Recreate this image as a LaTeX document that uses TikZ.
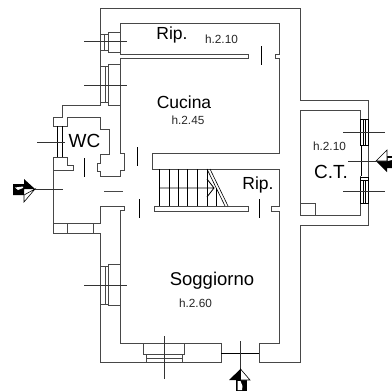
\documentclass[tikz,border=0pt]{standalone}
\usepackage{fontspec}
\setmainfont{Liberation Sans}
\tikzset{
	wall/.style={draw=black!72,line width=0.95pt,line join=miter},
	thin wall/.style={draw=black,line width=0.8pt},
	axis/.style={draw=black!80,line width=0.8pt},
	pointer/.style={draw=black,fill=white,line width=0.6pt},
	room/.style={inner sep=0pt,font=\fontsize{17.5}{18}\selectfont},
	height/.style={inner sep=0pt,text=black!85,font=\fontsize{11.8}{12}\selectfont}
}
\begin{document}
\begin{tikzpicture}[x=1pt,y=-1pt]
		\useasboundingbox (0,0) rectangle (392,392);

		\draw[wall] (100,105) -- (100,8) -- (300,8) -- (300,100) -- (368,100) -- (368,225) -- (300,225) -- (300,362) -- (259,362) -- (259,343) -- (279,343) -- (279,211) -- (271,211) -- (271,206) -- (279,206) -- (279,169) -- (152.5,169) -- (152.5,153) -- (279,153) -- (279,58) -- (275,58) -- (275,54) -- (279,54) -- (279,23) -- (120,23) -- (120,54) -- (248,54) -- (248,58) -- (120,58) -- (120,153) -- (124,153) -- (124,170) -- (120,170) -- (120,176) -- (100,176) -- (100,171) -- (97,171) -- (97,163) -- (100,163) -- (100,154) -- (109,154) -- (109,129) -- (100,129) -- (100,117) -- (67,117) -- (67,126) -- (53,126) -- (53,117) -- (62,117) -- (62,105) -- cycle;
		\draw[wall] (53,157) -- (67,157) -- (67,165) -- (73,165) -- (73,170) -- (53,170);
		\draw[wall] (53,157) -- (53,233) -- (100,233) -- (100,362) -- (221,362) -- (221,343) -- (120,343) -- (120,210) -- (124,210) -- (124,206) -- (100,206) -- (100,223) -- (53,223);
		\draw[wall] (67,223) -- (67,233) (93,223) -- (93,233);
		\draw[wall] (154.5,206) rectangle (248,211);

		\draw[wall] (100,34) rectangle (108,50) (104.5,34) -- (104.5,50);
		\draw[wall] (108,32) rectangle (120,52);
		\draw[wall] (100,66) rectangle (108,102) (105,66) -- (105,102);
		\draw[wall] (108,64) rectangle (120,105);
		\draw[wall] (100,266) rectangle (108,304) (105,266) -- (105,304);
		\draw[wall] (108,264) rectangle (120,305);
		\draw[thin wall] (57.5,126) -- (57.5,157) (62,126) -- (62,157);
		\draw[wall] (143,343) rectangle (184,354);
		\draw[wall] (146,354) rectangle (182,362) (146,358) -- (182,358);

		\draw[wall] (300,110) rectangle (360,215);
		\draw[wall] (300,203) -| (315,215);
		\draw[thin wall,fill=white] (360,119) rectangle (368,145) (363,119) -- (363,145) (365,119) -- (365,145);
		\draw[thin wall,fill=white] (360,177) rectangle (368,203) (363,180) -- (363,203) (365,180) -- (365,203) (360,180) -- (368,180);
		\draw[draw=white,line width=1.2pt] (360,146) -- (360,176);
		\draw[thin wall] (361,146) -- (361,176);

		\foreach \tread in {159,169,178,187,197,207}
			\draw[thin wall] (\tread,169) -- (\tread,206);
		\draw[thin wall] (216,188) -- (216,206);
		\draw[thin wall] (159,188) -- (213,188) (207,179) -- (214,188) -- (207,197);
		\draw[thin wall,line width=0.6pt] (207,169) -- (225,206) (210,169) -- (228,206);

		\foreach \door/\from/\to in {261/46/65,137/147/166,84/158/177,139/199/218,259/199/218}
			\draw[thin wall] (\door,\from) -- (\door,\to);
		\draw[wall] (104,191) -- (123,191);
		\draw[thin wall] (221,353) -- (259,353);

		\foreach \level/\from/\to in {41/84/127,85/84/127,142/37/65,189/33/63,285/84/127,132/343/385,161/348/376,191/343/385}
			\draw[axis] (\from,\level) -- (\to,\level);
		\draw[axis] (164,336) -- (164,379);
		\draw[axis] (240.5,341) -- (240.5,369);

		\fill (35,189) -- (24,179) -- (24,184) -- (13,184) -- (13,195) -- (24,195) -- (24,189) -- cycle;
		\fill[white] (15,187.5) -- (23,186.5) -- (23,188) -- (18,190) -- cycle;
		\draw[pointer] (35,189) -- (24,202) -- (24,195) -- cycle;

		\fill (376,161) -- (387,161) -- (387,156) -- (392,156) -- (392,168) -- (387,168) -- (387,172) -- cycle;
		\fill[white] (387.5,158) -- (392,158) -- (392,160) -- (387.5,161) -- cycle;
		\draw[pointer] (376,161) -- (387,150) -- (387,161) -- cycle;

		\fill (236,380) rectangle (247,391);
		\fill[white] (237.5,381) -- (240.5,381) -- (242.5,386) -- (242,390) -- (237.5,390) -- cycle;
		\fill (240.5,369) -- (229,380) -- (240.5,380) -- cycle;
		\draw[pointer] (240.5,369) -- (250,380) -- (240.5,380) -- cycle;

		\node[room] (rip top) at (172,35) {Rip.};
		\node[height] (h rip) at (221.5,39) {h.2.10};
		\node[room] (cucina) at (184,102) {Cucina};
		\node[height] (h cucina) at (188,120) {h.2.45};
		\node[room,font=\fontsize{19}{19}\selectfont] (wc) at (84.5,141) {WC};
		\node[height] (h ct) at (329.5,146) {h.2.10};
		\node[room,font=\fontsize{19}{19}\selectfont] (ct) at (331,172) {C.T.};
		\node[room] (rip stair) at (258,185) {Rip.};
		\node[room,font=\fontsize{18.5}{19}\selectfont] (soggiorno) at (212,281) {Soggiorno};
		\node[height] (h soggiorno) at (195.5,303) {h.2.60};
	\end{tikzpicture}
\end{document}
